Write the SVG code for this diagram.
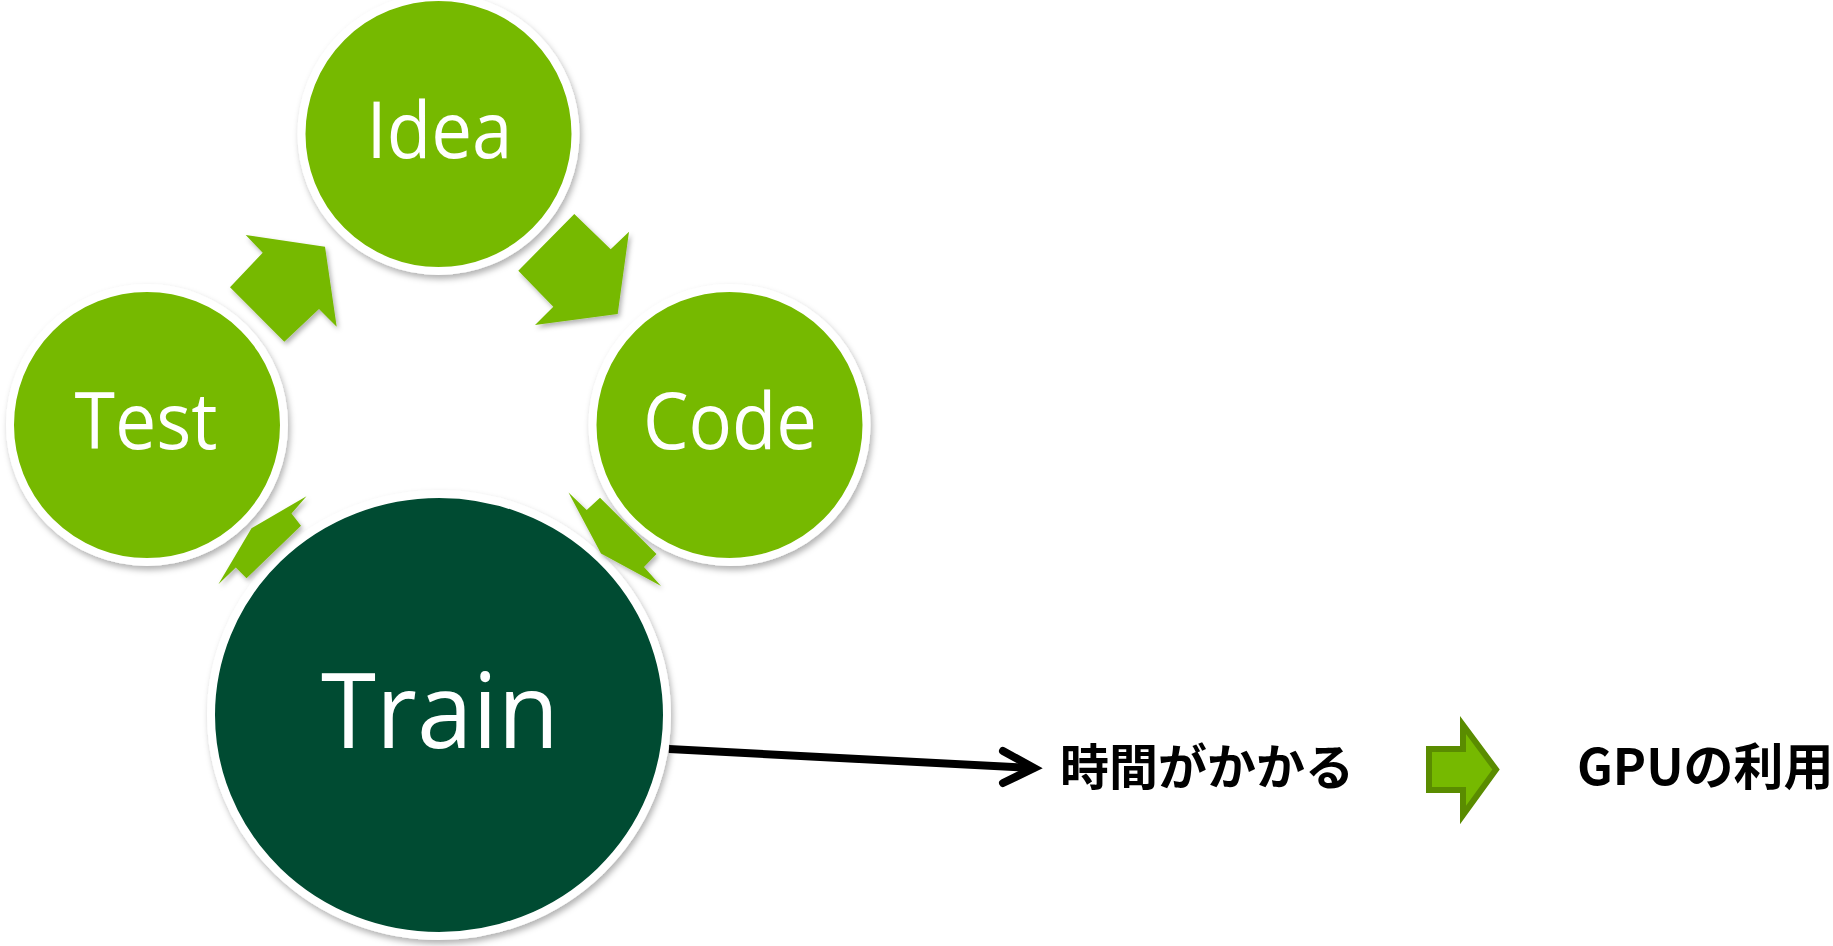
<svg xmlns="http://www.w3.org/2000/svg" width="1833" height="946" viewBox="0 0 1833 946">
<defs>
<filter id="sh" x="-20%" y="-20%" width="140%" height="140%">
<feDropShadow dx="2" dy="4" stdDeviation="3" flood-color="#000" flood-opacity="0.3"/>
</filter>
<filter id="ash" x="-20%" y="-20%" width="140%" height="140%">
<feDropShadow dx="2" dy="3" stdDeviation="2.5" flood-color="#000" flood-opacity="0.3"/>
</filter>
</defs>
<style>
.node{fill:#76b900;stroke:#ffffff;stroke-width:8;filter:url(#sh)}
.train{fill:#004b32;stroke:#ffffff;stroke-width:8;filter:url(#sh)}
.lbl{font-family:"Open Sans","Noto Sans","DejaVu Sans",sans-serif;fill:#ffffff;text-anchor:middle}
.cyc{fill:#76b900;filter:url(#ash)}
.jp{font-family:"Noto Sans CJK JP","Noto Sans",sans-serif;font-weight:bold;fill:#000000}
</style>
<rect width="1833" height="946" fill="#ffffff"/>
<g id="idea">
<ellipse class="node" cx="438.5" cy="134" rx="137" ry="137"/>
<text class="lbl" x="439.5" y="157.5" font-size="79" textLength="146" lengthAdjust="spacingAndGlyphs">Idea</text>
</g>
<g id="test">
<ellipse class="node" cx="147" cy="425" rx="137" ry="137"/>
<text class="lbl" x="146" y="448.5" font-size="79" textLength="143" lengthAdjust="spacingAndGlyphs">Test</text>
</g>
<g id="code">
<ellipse class="node" cx="729.5" cy="425" rx="137" ry="137"/>
<text class="lbl" x="730" y="448.5" font-size="79" textLength="174" lengthAdjust="spacingAndGlyphs">Code</text>
</g>
<g id="train">
<ellipse class="train" cx="439" cy="715" rx="228" ry="221"/>
<text class="lbl" x="440" y="748" font-size="104" textLength="238" lengthAdjust="spacingAndGlyphs">Train</text>
</g>
<g id="connectors">
<polygon class="cyc" points="245.7,235 325,246.7 336.7,326.7 319,309 284.3,341.7 230,287.3 262.7,252.7"/>
<polygon class="cyc" points="574.3,214 610.7,249.3 629,231.7 617.7,314 535,325 553.3,306.7 518.3,270.7"/>
<polygon class="cyc" points="568.5,492.5 586.7,510 600,497.7 656.5,554 644,567 661,586 601,553.5"/>
<polygon class="cyc" points="306.5,496.2 291.5,513.5 301,525.7 246.5,578.3 235.8,567.5 218.4,584.2 251.5,528.2"/>
<line x1="669" y1="749" x2="1030" y2="768" stroke="#000" stroke-width="8"/>
<polyline points="1003,751 1034,768 1003,783" fill="none" stroke="#000" stroke-width="8" stroke-linecap="round" stroke-linejoin="miter"/>
<polygon points="1429,749 1463,749 1463,725 1496,769.5 1463,815 1463,790 1429,790" fill="#76b900" stroke="#5a8c00" stroke-width="6"/>
</g>
<g id="jikan">
<text class="jp" x="1060" y="785" font-size="49" font-weight="900">時間がかかる</text>
</g>
<g id="gpu">
<text class="jp" x="1577" y="785" font-size="50" font-weight="900">GPUの利用</text>
</g>
</svg>
